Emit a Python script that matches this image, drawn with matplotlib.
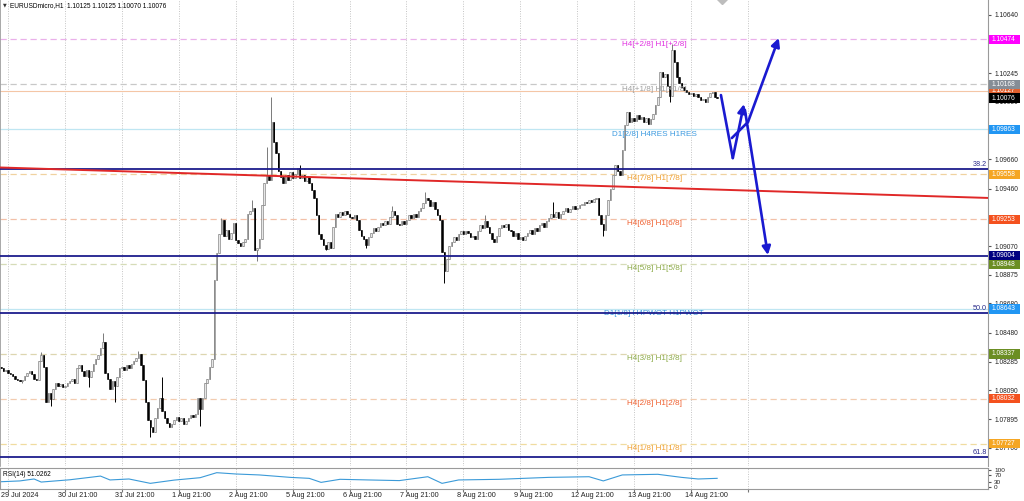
import matplotlib
matplotlib.use('Agg')
import matplotlib.pyplot as plt
import matplotlib.transforms as mtransforms
from matplotlib.patches import Rectangle
import numpy as np

plt.rcParams['font.family'] = ['Liberation Sans', 'DejaVu Sans']

symbol_info = "EURUSDmicro,H1  1.10125 1.10125 1.10070 1.10076"
rsi_info = "RSI(14) 51.0262"

# H1 closes, first bar is index -3 (bar 0 = 29 Jul 21:00)
first_bar = -3
closes = [
    1.0824, 1.0822, 1.0823, 1.0821, 1.0820, 1.0819, 1.0817, 1.0816, 1.0815, 1.0816,
    1.0819, 1.0821, 1.0822, 1.0820, 1.0817, 1.0816, 1.0829, 1.0833, 1.0825, 1.0801,
    1.0807, 1.0803, 1.0810, 1.0814, 1.0812, 1.0813, 1.0811, 1.0812, 1.0814, 1.0815,
    1.0817, 1.0814, 1.0824, 1.0826, 1.0822, 1.0819, 1.0823, 1.0818, 1.0822, 1.0827,
    1.0830, 1.0833, 1.0838, 1.0842, 1.0821, 1.0817, 1.0810, 1.0815, 1.0812, 1.0818,
    1.0824, 1.0825, 1.0823, 1.0826, 1.0824, 1.0827, 1.0829, 1.0831, 1.0834, 1.0826,
    1.0816, 1.0801, 1.0789, 1.0784, 1.0781, 1.0790, 1.0797, 1.0804, 1.0795, 1.0790,
    1.0787, 1.0784, 1.0786, 1.0789, 1.0791, 1.0788, 1.0790, 1.0786, 1.0788, 1.0790,
    1.0792, 1.0791, 1.0793, 1.0804, 1.0796, 1.0804, 1.0814, 1.0817, 1.0825, 1.0830,
    1.0884, 1.0902, 1.0915, 1.0925, 1.0914, 1.0918, 1.0912, 1.0916, 1.0923, 1.0911,
    1.0909, 1.0907, 1.0910, 1.0912, 1.0929, 1.0931, 1.0933, 1.0904, 1.0906, 1.0912,
    1.0935, 1.0950, 1.0955, 1.0952, 1.0991, 1.0978, 1.0970, 1.0958, 1.0954, 1.0950,
    1.0955, 1.0952, 1.0957, 1.0953, 1.0956, 1.0960, 1.0953, 1.0955, 1.0951, 1.0954,
    1.0950, 1.0945, 1.0940, 1.0928, 1.0915, 1.0912, 1.0908, 1.0905, 1.0910, 1.0906,
    1.0920, 1.0929, 1.0927, 1.0930, 1.0928, 1.0931, 1.0929, 1.0927, 1.0926, 1.0928,
    1.0925, 1.0918, 1.0914, 1.0912, 1.0908, 1.0913, 1.0916, 1.0919, 1.0917, 1.0920,
    1.0923, 1.0921, 1.0924, 1.0922, 1.0927, 1.0931, 1.0928, 1.0922, 1.0921, 1.0924,
    1.0922, 1.0925, 1.0928, 1.0926, 1.0929, 1.0927, 1.0931, 1.0933, 1.0936, 1.0940,
    1.0938, 1.0934, 1.0937, 1.0932, 1.0928, 1.0925, 1.0903, 1.0890, 1.0898, 1.0907,
    1.0910, 1.0913, 1.0911, 1.0915, 1.0917, 1.0915, 1.0917, 1.0916, 1.0913, 1.0914,
    1.0912, 1.0917, 1.0921, 1.0919, 1.0924, 1.0920, 1.0916, 1.0912, 1.0910, 1.0914,
    1.0919, 1.0921, 1.0920, 1.0922, 1.0918, 1.0917, 1.0914, 1.0916, 1.0912, 1.0913,
    1.0911, 1.0914, 1.0916, 1.0918, 1.0915, 1.0919, 1.0917, 1.0921, 1.0923, 1.0920,
    1.0924, 1.0926, 1.0929, 1.0927, 1.0930, 1.0926, 1.0929, 1.0931, 1.0933, 1.0930,
    1.0932, 1.0934, 1.0932, 1.0933, 1.0935, 1.0935, 1.0937, 1.0936, 1.0938, 1.0937,
    1.0939, 1.0940, 1.0928, 1.0922, 1.0918, 1.0928, 1.0938, 1.0946, 1.0955, 1.0962,
    1.0958, 1.0955, 1.0972, 1.0989, 1.0998, 1.0991, 1.0994, 1.0992, 1.0996, 1.0993,
    1.0995, 1.0991, 1.0994, 1.0990, 1.0993, 1.0997, 1.1003, 1.1008, 1.1025, 1.1022,
    1.1024, 1.1016, 1.1009, 1.1040, 1.1032, 1.1022, 1.1018, 1.1015, 1.1013, 1.1012,
    1.1010, 1.1011, 1.1009, 1.1010, 1.1008, 1.1006, 1.1007, 1.1005, 1.1008, 1.1011,
    1.1012, 1.1008, 1.10076,
]
first_open = 1.0825
# wicks that stick out of the bodies
wick_high = {14: 1.0835, 40: 1.0848, 55: 1.0836, 65: 1.0818, 90: 1.0926, 103: 1.0938,
             109: 1.0974, 111: 1.1008, 123: 1.0962, 162: 1.0934, 176: 1.0944, 201: 1.0928,
             230: 1.0937, 280: 1.1044}
wick_low = {6: 1.0814, 18: 1.0798, 34: 1.0811, 45: 1.0801, 60: 1.0777, 81: 1.0785,
            105: 1.0897, 134: 1.0904, 151: 1.0906, 184: 1.0882, 251: 1.0914, 279: 1.1005}

rsi_bars = [-3, 5, 11, 14, 26, 39, 43, 51, 60, 70, 81, 88, 96, 106, 119, 127, 132, 140,
            152, 165, 177, 183, 190, 207, 228, 245, 251, 259, 274, 284, 291, 299]
rsi_vals = [30, 35, 47, 28, 42, 65, 41, 47, 20, 40, 55, 86, 78, 72, 57, 51, 26, 45,
            41, 37, 61, 20, 41, 45, 57, 61, 35, 72, 76, 57, 47, 51]

# Murrey math levels
mm_prices = [1.10474, 1.10168, 1.09558, 1.09253, 1.08948, 1.08337, 1.08032, 1.07727]
mm_names = ["H4[+2/8] H1[+2/8]", "H4[+1/8] H1[+1/8]", "H4[7/8] H1[7/8]", "H4[6/8] H1[6/8]",
            "H4[5/8] H1[5/8]", "H4[3/8] H1[3/8]", "H4[2/8] H1[2/8]", "H4[1/8] H1[1/8]"]
mm_box = ['#ff00ff', '#858d96', '#f5a623', '#f4511e', '#6b8e23', '#6b8e23', '#f4511e', '#f5a623']
mm_text = ['#e030e0', '#a0a0a0', '#f0a030', '#f06030', '#8caa48', '#8caa48', '#f06030', '#f0a030']
mm_line = ['#eab0ea', '#c8c8c8', '#f0d2a0', '#f2c0a8', '#d6dcb8', '#ddd6b0', '#f2ccb0', '#f0dca0']

d1_prices = [1.09863, 1.08643]
d1_names = ["D1[2/8] H4RES H1RES", "D1[1/8] H4PWOT H1PWOT"]

fib_prices = [1.09594, 1.08615, 1.07637]
fib_names = ["38.2", "50.0", "61.8"]
navy_level = 1.09004
prev_level = 1.10127
last_price = 1.10076

trend_bars = [-3.4, 413.2]
trend_prices = [1.09604, 1.09397]

# hand-drawn projection (bar index, price)
proj_a_x = [300.6, 305.6, 310.3]
proj_a_y = [1.10096, 1.09668, 1.10035]
proj_b_x = [305.2, 312.0, 325.0]
proj_b_y = [1.09804, 1.09913, 1.10484]
proj_c_x = [310.7, 320.4]
proj_c_y = [1.09995, 1.09009]
marker_bar = 301.0

# tick labels not hidden behind the price boxes
price_ticks = [1.10640, 1.10245, 1.10050, 1.09660, 1.09460, 1.09265,
               1.09070, 1.08875, 1.08680, 1.08480, 1.08285, 1.08090, 1.07895, 1.07700]
day_bars = list(range(0, 313, 24))
day_labels = ['29 Jul 2024', '30 Jul 21:00', '31 Jul 21:00', '1 Aug 21:00', '2 Aug 21:00',
              '5 Aug 21:00', '6 Aug 21:00', '7 Aug 21:00', '8 Aug 21:00', '9 Aug 21:00',
              '12 Aug 21:00', '13 Aug 21:00', '14 Aug 21:00']

W, H = 1024, 501
fig = plt.figure(figsize=(W / 100, H / 100), dpi=100)
ax = fig.add_axes([0, 1 - 466 / H, 988 / W, 466 / H])
rx = fig.add_axes([0, 1 - 489 / H, 988 / W, 21 / H], sharex=ax)
ax.set_xlim(-3.37, 413.2)
ax.set_ylim(1.075757, 1.107419)
rx.set_ylim(-15, 115)

for a in (ax, rx):
    for b in day_bars:
        a.axvline(b, color='#c4c4c4', lw=0.7, ls=(0, (1, 1.5)), zorder=0)

# candles
bars = np.arange(first_bar, first_bar + len(closes))
c = np.array(closes)
o = np.concatenate([[first_open], c[:-1]])
hi = np.maximum(o, c)
lo = np.minimum(o, c)
for i, b in enumerate(bars):
    hi[i] = max(hi[i], wick_high.get(b, hi[i]))
    lo[i] = min(lo[i], wick_low.get(b, lo[i]))
up = c >= o
ax.vlines(bars[up], lo[up], hi[up], color='#7a7a7a', lw=0.7, zorder=2)
ax.vlines(bars[~up], lo[~up], hi[~up], color='black', lw=0.7, zorder=2)
body = np.maximum(np.abs(c - o), 0.00003)
bottom = np.minimum(o, c)
ax.bar(bars[up], body[up], bottom=bottom[up], width=0.62,
       color='#e6e6e6', edgecolor='#6e6e6e', linewidth=0.4, zorder=2)
ax.bar(bars[~up], body[~up], bottom=bottom[~up], width=0.62,
       color='black', edgecolor='black', linewidth=0.4, zorder=2)

blend = mtransforms.blended_transform_factory(ax.transAxes, ax.transData)
px = 1.0 / 14718  # price per pixel


def price_box(p, txt, col, z):
    ax.add_patch(Rectangle((1.0008, p - 4.6 * px), 31 / 988, 9.2 * px, transform=blend,
                           facecolor=col, edgecolor='none', clip_on=False, zorder=z))
    ax.text(1.0 + 3.5 / 988, p, txt, transform=blend, fontsize=4.8, color='white',
            ha='left', va='center', clip_on=False, zorder=z + 0.1)


# horizontal levels
ax.axhline(prev_level, color='#f4c6a6', lw=0.8, zorder=1)
for p in d1_prices:
    ax.axhline(p, color='#bfe6f2', lw=0.9, zorder=1)
for p, col in zip(mm_prices, mm_line):
    ax.axhline(p, color=col, lw=0.9, ls=(0, (5, 3)), zorder=1)
for p in fib_prices + [navy_level]:
    ax.axhline(p, color='#1c1c8c', lw=1.3, zorder=3)
ax.plot(trend_bars, trend_prices, color='#e02828', lw=1.4, zorder=3)

for p, name, col in zip(mm_prices, mm_names, mm_text):
    ax.annotate(name, xy=(272.5, p), xytext=(0, -3.4), textcoords='offset points',
                ha='center', va='center', fontsize=5.9, color=col, zorder=4)
for p, name in zip(d1_prices, d1_names):
    ax.annotate(name, xy=(272.5, p), xytext=(0, -3.4), textcoords='offset points',
                ha='center', va='center', fontsize=5.9, color='#3d9be0', zorder=2.5)
for p, name in zip(fib_prices, fib_names):
    ax.text(0.999, p + 0.7 * px, name, transform=blend, ha='right', va='bottom',
            fontsize=5.2, color='#2a2a8a', zorder=4)

# projection arrows
blue = '#1a1ad0'
ax.plot(proj_a_x[:-1], proj_a_y[:-1], color=blue, lw=1.9, solid_capstyle='round', zorder=5)
ax.plot(proj_b_x[:-1], proj_b_y[:-1], color=blue, lw=1.9, solid_capstyle='round', zorder=5)
for xs, ys in ((proj_a_x, proj_a_y), (proj_b_x, proj_b_y), (proj_c_x, proj_c_y)):
    ax.annotate('', xy=(xs[-1], ys[-1]), xytext=(xs[-2], ys[-2]),
                arrowprops=dict(arrowstyle='-|>,head_length=0.5,head_width=0.25',
                                color=blue, lw=1.9, shrinkA=0, shrinkB=0), zorder=5)

# grey object marker cut by the top edge
ax.plot([marker_bar], [1.107419 + 1.5 * px], marker='D', ms=5, color='#bdbdbd', zorder=5)

# price axis
ax.yaxis.tick_right()
ax.set_yticks(price_ticks)
ax.set_yticklabels([f'{t:.5f}' for t in price_ticks])
ax.tick_params(axis='y', labelsize=4.8, length=2, pad=2.5, colors='#555555', labelcolor='#222222')
ax.tick_params(axis='x', bottom=False, labelbottom=False)
for s in ('top', 'bottom'):
    ax.spines[s].set_visible(False)
ax.spines['right'].set_color('#9a9a9a')
ax.spines['left'].set_color('#9a9a9a')
ax.spines['left'].set_linewidth(1.2)

boxes = [(prev_level, '1.10127', '#e2602e', 5), (1.10168, '1.10168', mm_box[1], 6),
         (last_price, '1.10076', 'black', 7)]
for p, name, col in zip(mm_prices, mm_names, mm_box):
    if p != 1.10168:
        boxes.append((p, f'{p:.5f}', col, 5))
boxes += [(d1_prices[0], '1.09863', '#2196f3', 5), (d1_prices[1], '1.08643', '#2196f3', 6),
          (navy_level, '1.09004', '#000080', 6)]
for p, txt, col, z in boxes:
    price_box(p, txt, col, z)

ax.text(0.003, 0.989, '\u25BC', transform=ax.transAxes, fontsize=3.5, color='#333333',
        family='DejaVu Sans', ha='left', va='center')
ax.text(0.0105, 0.989, symbol_info, transform=ax.transAxes, fontsize=4.7, color='black',
        ha='left', va='center')

# RSI window
rx.plot(rsi_bars, rsi_vals, color='#3b9ad8', lw=0.8)
rx.text(0.003, 0.68, rsi_info, transform=rx.transAxes, fontsize=4.7, color='black',
        ha='left', va='center')
rx.yaxis.tick_right()
rx.set_yticks([0, 30, 70, 100])
rx.set_yticklabels(['0', '30', '70', '100'])
rx.tick_params(axis='y', labelsize=4.6, length=2, pad=2.5, colors='#555555', labelcolor='#222222')
rx.set_xticks(day_bars)
rx.tick_params(axis='x', length=2, labelbottom=False, colors='#777777')
for s in rx.spines.values():
    s.set_color('#9a9a9a')
    s.set_linewidth(0.8)
for b, lab in zip(day_bars, day_labels):
    rx.annotate(lab, xy=(b, 0), xycoords=('data', 'axes fraction'), xytext=(-4.7, -4.4),
                textcoords='offset points', ha='left', va='center', fontsize=5.2,
                color='#222222', annotation_clip=False)

fig.savefig('out.png', dpi=100, facecolor='white')
